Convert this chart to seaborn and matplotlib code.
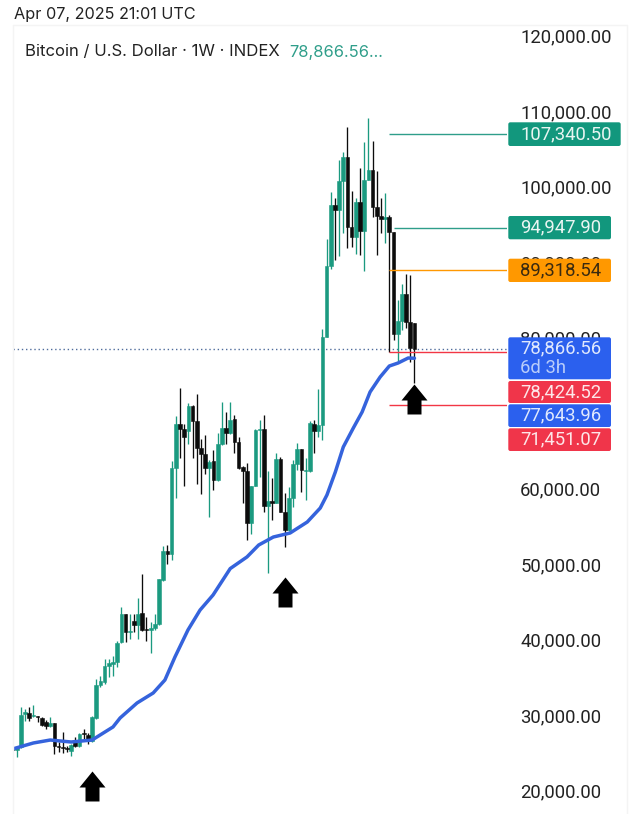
import matplotlib
matplotlib.use("Agg")
import matplotlib.pyplot as plt
import numpy as np
import pandas as pd
import seaborn as sns
from matplotlib.patches import FancyBboxPatch
from matplotlib.path import Path
from matplotlib.transforms import Affine2D, ScaledTranslation

# weekly candles, thousands of USD
open_k = [26.20,25.75,26.11,30.53,30.62,30.26,30.31,30.0,29.42,28.89,29.33,26.33,26.11,25.97,25.67,26.77,26.28,27.96,27.79,27.0,
          30.0,34.42,34.73,36.94,37.16,37.38,40.03,43.7,41.36,42.9,42.24,43.88,41.8,41.58,41.89,42.46,48.3,52.06,51.66,63.15,
          68.99,68.24,68.02,71.29,69.3,65.76,64.92,63.11,64.04,61.47,66.24,68.45,67.75,69.6,66.6,63.24,62.71,55.86,60.76,68.1,
          68.28,58.11,58.69,58.51,64.34,57.27,54.84,59.17,63.59,65.58,62.71,62.71,68.9,67.97,68.76,80.39,89.85,97.89,97.27,101.16,
          104.35,95.06,93.65,98.29,94.53,101.25,102.58,97.63,96.48,96.13,96.39,94.31,80.79,82.6,86.14,82.47,82.25]
high_k = [26.99,26.11,31.41,31.19,31.5,31.72,30.31,30.17,29.73,30.17,29.33,26.77,28.1,26.33,26.55,27.43,27.96,28.54,27.96,30.31,
          35.17,35.61,37.82,37.82,38.26,40.25,44.67,43.79,43.79,43.7,45.87,49.0,43.43,42.68,43.79,48.43,52.72,52.94,64.04,70.0,
          73.76,68.99,71.77,71.42,72.88,66.91,67.44,64.13,65.45,67.75,71.86,70.53,71.86,70.18,67.22,63.33,63.77,60.76,68.32,69.43,
          70.09,62.71,61.78,65.09,64.56,59.79,60.59,64.12,66.46,65.67,64.48,69.34,69.51,73.6,81.45,93.4,99.7,98.91,103.9,105.01,
          108.24,99.84,98.82,102.8,106.33,109.43,106.47,102.49,98.82,99.48,96.61,94.4,85.34,87.46,88.79,88.65,82.25]
low_k = [25.45,24.78,26.0,29.64,29.64,30.09,29.42,28.98,28.54,28.76,25.22,25.45,25.31,25.45,24.91,26.11,26.11,27.21,26.55,26.77,
         29.87,34.15,34.51,35.39,35.61,36.8,39.9,40.12,40.47,41.36,40.47,41.49,40.25,38.57,41.67,42.24,48.13,50.42,50.87,59.18,
         64.48,60.72,66.34,64.48,61.03,59.62,62.36,56.61,60.15,61.38,66.11,66.33,67.66,65.09,63.02,58.46,53.51,54.4,60.67,61.91,
         57.27,49.23,56.17,58.46,57.27,52.63,54.75,57.93,62.8,59.92,58.82,62.58,65.14,67.22,66.77,80.39,89.41,90.64,91.17,94.18,
         92.19,92.41,91.44,91.31,89.23,101.25,96.3,91.31,94.18,92.85,78.4,80.0,77.16,81.36,81.58,77.16,74.38]
close_k = [25.75,26.10,30.44,30.75,30.0,30.44,30.17,29.11,28.89,29.33,26.33,26.2,26.02,25.84,26.42,26.24,27.88,27.88,27.08,30.09,
           34.42,34.86,36.94,37.25,37.38,39.9,43.7,41.36,41.45,42.24,43.79,41.67,41.58,41.89,42.46,48.34,52.1,51.66,63.15,68.99,
           68.24,67.22,71.29,69.3,65.76,64.92,63.11,63.9,61.47,66.24,68.45,67.75,69.51,66.6,63.15,62.71,55.86,60.76,68.19,68.28,
           58.11,58.69,58.51,64.25,57.27,54.84,59.17,63.59,65.58,62.8,62.88,69.07,67.97,68.76,80.39,89.85,97.9,97.27,101.16,104.35,
           95.06,93.65,98.29,94.53,101.25,102.58,97.63,96.48,96.13,96.39,94.31,80.79,82.6,86.14,82.38,78.93,78.87]

# moving average read at selected weeks
ema_week = [0,5,9,14,19,24,25.7,29.75,33.6,36.4,38.8,41.9,44.8,47.9,52,56,58.8,62.3,66.3,70.4,73.5,75.1,77.1,79,81.4,83.5,85.4,87.8,90,92.1,94.5,96]
ema_k = [25.88,26.68,27.07,26.81,27.07,28.8,29.99,31.98,33.3,35.02,38.07,41.64,44.29,46.28,49.78,51.32,52.9,53.96,54.49,55.95,57.8,59.53,
         62.57,65.88,68.4,70.52,73.17,75.15,76.61,77.01,77.67,77.64]

arrow_week = [19, 65, 96]
arrow_k = [20.98, 46.68, 72.24]

tick_values = [20000,30000,40000,50000,60000,70000,80000,90000,100000,110000,120000]
line_prices = [107340.50, 94947.90, 89318.54, 78424.52, 71451.07]
line_colors = ["#2f9e8a", "#2f9e8a", "#ff9800", "#f23645", "#f23645"]
line_start = [90, 91, 90, 90, 90]
last_price = 78866.56

GREEN = "#1b9a80"
BLACK = "#0c0c0c"

sns.set_theme(style="white")
plt.rcParams["font.family"] = ["Inter", "DejaVu Sans"]

W, H = 640, 814
fig = plt.figure(figsize=(W / 100, H / 100), dpi=100, facecolor="white")
ax = fig.add_axes([13 / W, 0, (507 - 13) / W, (H - 25) / H])
ax.set_facecolor("white")

df = pd.DataFrame({"week": np.arange(len(open_k)),
                   "o": np.array(open_k) * 1000, "h": np.array(high_k) * 1000,
                   "l": np.array(low_k) * 1000, "c": np.array(close_k) * 1000})
df["up"] = df.c >= df.o
for up, col in [(True, GREEN), (False, BLACK)]:
    d = df[df.up == up]
    ax.vlines(d.week, d.l, d.h, color=col, lw=0.95, zorder=2)
    ax.bar(d.week, d.c - d.o, bottom=d.o, width=0.88, color=col, edgecolor=col, linewidth=0.4, zorder=3)

ema = pd.DataFrame({"week": ema_week, "v": np.array(ema_k) * 1000})
sns.lineplot(data=ema, x="week", y="v", ax=ax, color="#3563dc", lw=2.5, zorder=4)

for p, col, s in zip(line_prices, line_colors, line_start):
    ax.plot([s, 118.1], [p, p], color=col, lw=1.0, zorder=4, solid_capstyle="butt")
ax.axhline(last_price, color="#4f6c9c", lw=1.0, ls=(0, (1, 2)), zorder=1)

verts = np.array([[0, 15], [13, -1], [7, -1], [7, -15], [-7, -15], [-7, -1], [-13, -1], [0, 15]], float)
codes = [Path.MOVETO] + [Path.LINETO] * 6 + [Path.CLOSEPOLY]
ax.scatter(arrow_week, np.array(arrow_k) * 1000, marker=Path(verts, codes), s=466, color="black", linewidths=0, zorder=6)

ax.set_xlim(0.12, 118.1)
ax.set_ylim(17272, 121777)
ax.set_xlabel(""); ax.set_ylabel("")
ax.set_xticks([])
for s in ax.spines.values():
    s.set_visible(False)
ax.yaxis.tick_right()
ax.set_yticks(tick_values)
ax.set_yticklabels([f"{v:,.2f}" for v in tick_values], family="Roboto")
ax.tick_params(axis="y", length=0, pad=9.5, labelsize=13.3, labelcolor="#222222")
shift = ScaledTranslation(0, 3 / 100, fig.dpi_scale_trans)
for lab in ax.get_yticklabels():
    lab.set_transform(lab.get_transform() + shift)

# page frame and price labels, placed in pixels from the top left
px = Affine2D().scale(1, -1).translate(0, H)
def box(x0, y0, x1, y1, col):
    fig.add_artist(FancyBboxPatch((x0 + 1.5, y0 + 1.5), x1 - x0 - 3, y1 - y0 - 3, boxstyle="round,pad=1.5,rounding_size=2",
                                  fc=col, ec="none", transform=px, zorder=5))
def label(x, y, s, col, size=13.3, fam="Roboto"):
    fig.text(x / W, 1 - y / H, s, color=col, fontsize=size, ha="left", va="center", zorder=6, family=fam)

for xs, ys in [([13, 13], [25, 814]), ([13, 627], [25, 25]), ([627, 627], [25, 814])]:
    fig.add_artist(plt.Line2D(xs, ys, color="#f4f4f4", lw=1, transform=px, zorder=1))

TXT = "#e9f5f2"
box(508.3, 122.3, 620.7, 146, "#12977d"); label(521, 134, "107,340.50", TXT)
box(508.3, 216, 611, 239.3, "#12977d"); label(520, 227.5, "94,947.90", TXT)
box(508.3, 258.7, 611, 282, "#ff9800"); label(520, 270, "89,318.54", "#3a2a10")
box(508.3, 337.3, 611, 379.3, "#2b60ee"); label(520, 348, "78,866.56", "#dfe8fd"); label(520, 368, "6d 3h", "#b9cdfa")
box(508.3, 381, 611, 403, "#f0354a"); label(520, 392, "78,424.52", "#fde6e8")
box(508.3, 404.3, 611, 427, "#2b60ee"); label(520, 415, "77,643.96", "#dfe8fd")
box(508.3, 428.3, 611, 451, "#f0354a"); label(520, 439.5, "71,451.07", "#fde6e8")

label(14, 15, "Apr 07, 2025 21:01 UTC", "#222222", 11.7, "Inter")
label(25, 52, "Bitcoin / U.S. Dollar · 1W · INDEX", "#222222", 12, "Inter")
label(289, 52, "78,866.56...", "#2f9e8a", 11.9, "Inter")

fig.savefig("out.png", dpi=100, facecolor="white")
